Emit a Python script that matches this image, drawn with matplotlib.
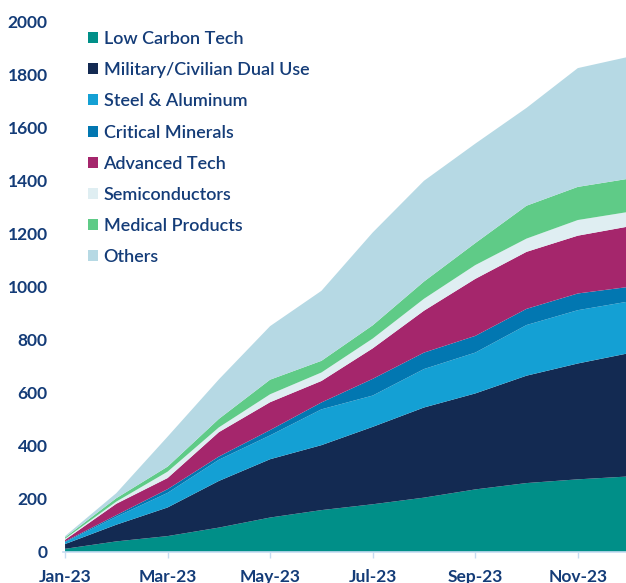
import matplotlib
matplotlib.use("Agg")
import matplotlib.pyplot as plt
from matplotlib.patches import Patch

months = ["Jan-23", "Feb-23", "Mar-23", "Apr-23", "May-23", "Jun-23",
          "Jul-23", "Aug-23", "Sep-23", "Oct-23", "Nov-23", "Dec-23"]

low_carbon = [12, 40, 60, 92, 130, 158, 180, 205, 236, 260, 274, 285]
dual_use = [18, 63, 108, 176, 220, 245, 292, 340, 362, 405, 437, 465]
steel_alu = [7, 30, 55, 80, 90, 135, 118, 145, 154, 191, 201, 195]
critical_min = [3, 6, 14, 12, 20, 26, 63, 62, 63, 61, 63, 55]
advanced_tech = [6, 43, 42, 92, 105, 81, 115, 158, 215, 215, 218, 228]
semiconductors = [4, 8, 24, 18, 30, 32, 37, 45, 52, 50, 59, 55]
medical = [5, 13, 19, 32, 55, 44, 50, 65, 83, 124, 125, 125]
others = [5, 19, 113, 149, 202, 264, 350, 380, 375, 369, 448, 460]

labels = ["Low Carbon Tech", "Military/Civilian Dual Use", "Steel & Aluminum",
          "Critical Minerals", "Advanced Tech", "Semiconductors",
          "Medical Products", "Others"]
colors = ["#008f88", "#132a52", "#14a0d4", "#0277b1", "#a5266c",
          "#dfeef2", "#5fcb87", "#b6d9e4"]

yticks = [0, 200, 400, 600, 800, 1000, 1200, 1400, 1600, 1800, 2000]
xtick_idx = [0, 2, 4, 6, 8, 10]

txt = "#143c78"
W, H = 626, 583
fig = plt.figure(figsize=(W / 100, H / 100), dpi=100)
ax = fig.add_axes([63 / W, 31 / H, (W - 63) / W, (552 - 21.7) / H])

x = list(range(len(months)))
series = [low_carbon, dual_use, steel_alu, critical_min, advanced_tech,
          semiconductors, medical, others]
ax.stackplot(x, *series, colors=colors, linewidth=0)

ax.set_xlim(-0.04, 10.94)
ax.set_ylim(0, 2000)
ax.set_yticks(yticks)
ax.set_yticklabels([str(v) for v in yticks])
ax.set_xticks(xtick_idx)
ax.set_xticklabels([months[i] for i in xtick_idx])

for s in ["top", "right", "left"]:
    ax.spines[s].set_visible(False)
ax.spines["bottom"].set_color("#c6dcf2")
ax.spines["bottom"].set_linewidth(1.2)
ax.spines["bottom"].set_zorder(5)

ax.tick_params(axis="y", length=0, pad=11, labelsize=12.5, labelcolor=txt)
ax.tick_params(axis="x", length=4, width=1, color="#c6dcf2", pad=8,
               labelsize=12.5, labelcolor=txt)
for lab in ax.get_xticklabels() + ax.get_yticklabels():
    lab.set_fontfamily("Lato")
    lab.set_fontweight("bold")

handles = [Patch(facecolor=c, edgecolor="none") for c in colors]
leg = ax.legend(handles, labels, loc="upper left",
                bbox_to_anchor=(88 / W, 1 - 31 / H), bbox_transform=fig.transFigure,
                frameon=False, handlelength=0.56, handleheight=0.56,
                handletextpad=0.3, labelspacing=0.84, borderpad=0, borderaxespad=0,
                prop={"family": "Lato", "size": 13, "weight": "semibold"})
for t in leg.get_texts():
    t.set_color(txt)

fig.savefig("out.png", dpi=100)
